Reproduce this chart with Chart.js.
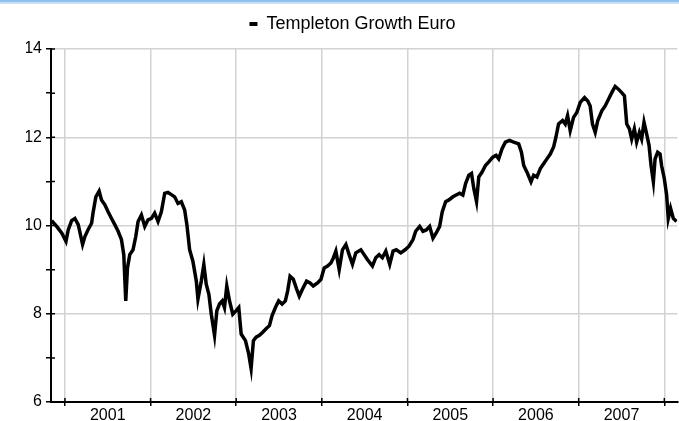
<!DOCTYPE html>
<html>
<head>
<meta charset="utf-8">
<script src="https://cdn.jsdelivr.net/npm/chart.js@4.4.1/dist/chart.umd.min.js"></script>
<style>
  html, body { margin: 0; padding: 0; background: #fff; }
  #wrap { width: 679px; height: 421px; position: relative; }
</style>
</head>
<body>
<div id="wrap"><canvas id="navChart" width="679" height="421"></canvas></div>
<script>
// fund price (x = decimal year)
const dates = [
  2000.845, 2000.903, 2000.962, 2001.012, 2001.038, 2001.078, 2001.116, 2001.155, 2001.206, 2001.233,
  2001.271, 2001.311, 2001.330, 2001.361, 2001.399, 2001.427, 2001.466, 2001.504, 2001.544, 2001.582,
  2001.621, 2001.660, 2001.687, 2001.710, 2001.730, 2001.757, 2001.795, 2001.827, 2001.854, 2001.893,
  2001.932, 2001.970, 2002.010, 2002.048, 2002.087, 2002.126, 2002.165, 2002.203, 2002.243, 2002.281,
  2002.320, 2002.359, 2002.398, 2002.424, 2002.456, 2002.494, 2002.534, 2002.553, 2002.592, 2002.622,
  2002.650, 2002.681, 2002.709, 2002.747, 2002.774, 2002.805, 2002.837, 2002.863, 2002.890, 2002.922,
  2002.960, 2003.000, 2003.030, 2003.058, 2003.108, 2003.146, 2003.174, 2003.201, 2003.233, 2003.271,
  2003.310, 2003.349, 2003.388, 2003.419, 2003.458, 2003.496, 2003.536, 2003.574, 2003.601, 2003.629,
  2003.667, 2003.706, 2003.737, 2003.775, 2003.822, 2003.862, 2003.900, 2003.950, 2003.990, 2004.028,
  2004.067, 2004.106, 2004.136, 2004.164, 2004.203, 2004.241, 2004.281, 2004.319, 2004.358, 2004.397,
  2004.456, 2004.494, 2004.532, 2004.591, 2004.630, 2004.669, 2004.707, 2004.747, 2004.793, 2004.832,
  2004.870, 2004.922, 2004.972, 2005.018, 2005.065, 2005.096, 2005.143, 2005.181, 2005.220, 2005.259,
  2005.298, 2005.336, 2005.376, 2005.406, 2005.446, 2005.484, 2005.531, 2005.569, 2005.609, 2005.647,
  2005.679, 2005.717, 2005.748, 2005.775, 2005.807, 2005.833, 2005.872, 2005.911, 2005.950, 2005.997,
  2006.035, 2006.066, 2006.105, 2006.144, 2006.191, 2006.241, 2006.299, 2006.331, 2006.358, 2006.396,
  2006.443, 2006.474, 2006.512, 2006.552, 2006.590, 2006.629, 2006.668, 2006.707, 2006.734, 2006.765,
  2006.812, 2006.843, 2006.870, 2006.901, 2006.940, 2006.978, 2007.018, 2007.068, 2007.106, 2007.134,
  2007.161, 2007.193, 2007.223, 2007.270, 2007.309, 2007.348, 2007.386, 2007.426, 2007.464, 2007.502,
  2007.534, 2007.561, 2007.592, 2007.619, 2007.650, 2007.677, 2007.709, 2007.735, 2007.763, 2007.794,
  2007.822, 2007.845, 2007.872, 2007.892, 2007.922, 2007.950, 2007.968, 2008.000, 2008.027, 2008.046,
  2008.073, 2008.105, 2008.143
];
const navValues = [
  10.11, 9.98, 9.83, 9.64, 9.90, 10.11, 10.16, 10.02, 9.57, 9.75,
  9.91, 10.05, 10.31, 10.65, 10.78, 10.58, 10.47, 10.31, 10.16, 10.02,
  9.87, 9.68, 9.34, 8.29, 9.04, 9.34, 9.45, 9.75, 10.09, 10.24,
  9.98, 10.13, 10.16, 10.28, 10.09, 10.31, 10.73, 10.75, 10.70, 10.65,
  10.50, 10.54, 10.35, 10.02, 9.45, 9.19, 8.74, 8.33, 8.74, 9.12,
  8.67, 8.44, 7.99, 7.51, 8.07, 8.22, 8.29, 8.14, 8.63, 8.29,
  7.99, 8.07, 8.14, 7.54, 7.39, 7.09, 6.76, 7.39, 7.47, 7.51,
  7.58, 7.66, 7.73, 7.96, 8.14, 8.29, 8.22, 8.29, 8.52, 8.85,
  8.78, 8.56, 8.40, 8.56, 8.74, 8.70, 8.63, 8.70, 8.78, 9.04,
  9.08, 9.15, 9.27, 9.42, 9.00, 9.45, 9.57, 9.34, 9.12, 9.38,
  9.45, 9.34, 9.23, 9.08, 9.27, 9.34, 9.27, 9.42, 9.12, 9.42,
  9.45, 9.38, 9.45, 9.53, 9.68, 9.87, 9.98, 9.87, 9.90, 9.98,
  9.71, 9.83, 9.98, 10.31, 10.54, 10.58, 10.65, 10.69, 10.73, 10.69,
  10.95, 11.14, 11.18, 10.84, 10.54, 11.10, 11.21, 11.36, 11.44, 11.55,
  11.59, 11.51, 11.74, 11.89, 11.93, 11.89, 11.85, 11.66, 11.36, 11.21,
  10.99, 11.14, 11.10, 11.29, 11.40, 11.51, 11.62, 11.78, 12.00, 12.30,
  12.38, 12.30, 12.49, 12.15, 12.45, 12.56, 12.79, 12.90, 12.82, 12.71,
  12.30, 12.11, 12.38, 12.60, 12.71, 12.86, 13.01, 13.15, 13.09, 13.01,
  12.94, 12.30, 12.19, 11.96, 12.19, 11.89, 12.11, 11.96, 12.34, 12.07,
  11.81, 11.36, 10.99, 11.51, 11.66, 11.62, 11.36, 11.06, 10.69, 10.16,
  10.39, 10.16, 10.09
];
const yearLabels = ['2001', '2002', '2003', '2004', '2005', '2006', '2007'];
const yearStarts = [2001, 2002, 2003, 2004, 2005, 2006, 2007, 2008];
const seriesName = 'Templeton Growth Euro';

const points = dates.map((d, i) => ({ x: d, y: navValues[i] }));

// white background + light blue strip along the top edge
const topStrip = {
  id: 'topStrip',
  beforeDraw(chart) {
    const c = chart.ctx;
    c.save();
    c.fillStyle = '#ffffff';
    c.fillRect(0, 0, chart.width, chart.height);
    c.fillStyle = '#8fc0ee';
    c.fillRect(0, 0, chart.width, 2);
    c.fillStyle = '#c8dff5';
    c.fillRect(0, 2, chart.width, 2);
    c.restore();
  }
};

// tick marks in the reference cross the axis line, so add the inner half
const innerTicks = {
  id: 'innerTicks',
  afterDatasetsDraw(chart) {
    const { x, y } = chart.scales;
    const area = chart.chartArea;
    const c = chart.ctx;
    c.save();
    c.strokeStyle = '#000';
    c.lineWidth = 1.5;
    c.beginPath();
    y.ticks.forEach(t => {
      const py = y.getPixelForValue(t.value);
      c.moveTo(area.left, py);
      c.lineTo(area.left + 4, py);
    });
    yearStarts.forEach(v => {
      const px = x.getPixelForValue(v);
      c.moveTo(px, area.bottom);
      c.lineTo(px, area.bottom - 4);
    });
    c.stroke();
    c.restore();
  }
};

const isYearStart = v => Math.abs(v - Math.round(v)) < 0.01;
const labelFont = { family: 'Liberation Sans, Arial, sans-serif', size: 16 };

const chart = new Chart(document.getElementById('navChart'), {
  type: 'line',
  data: {
    datasets: [{
      label: seriesName,
      data: points,
      borderColor: '#000',
      backgroundColor: '#000',
      borderWidth: 3.5,
      pointRadius: 0,
      tension: 0
    }]
  },
  options: {
    responsive: false,
    animation: false,
    // left padding only moves the legend centre; the y axis is narrowed to match
    layout: { padding: { left: 26, right: 0, top: 0, bottom: 0 } },
    plugins: {
      legend: {
        display: true,
        position: 'top',
        labels: {
          color: '#000',
          boxWidth: 8,
          boxHeight: 4,
          padding: 15,
          font: { family: 'Liberation Sans, Arial, sans-serif', size: 18 },
          generateLabels(ch) {
            const items = Chart.defaults.plugins.legend.labels.generateLabels(ch);
            items.forEach(it => { it.lineWidth = 0; });
            return items;
          }
        }
      },
      tooltip: { enabled: false }
    },
    scales: {
      x: {
        type: 'linear',
        min: 2000.837,
        max: 2008.151,
        afterBuildTicks(scale) {
          const t = [];
          yearStarts.forEach(y => t.push({ value: y }));
          yearLabels.forEach((l, i) => t.push({ value: yearStarts[i] + 0.5 }));
          scale.ticks = t.sort((a, b) => a.value - b.value);
        },
        afterFit(scale) { scale.height = 19; },
        ticks: {
          autoSkip: false,
          maxRotation: 0,
          padding: 0,
          color: '#000',
          font: labelFont,
          callback(v) {
            if (isYearStart(v)) return '';
            return yearLabels[Math.floor(v) - 2001];
          }
        },
        grid: {
          color: ctx => (ctx.tick && isYearStart(ctx.tick.value)) ? '#d2d2d2' : 'rgba(0,0,0,0)',
          tickColor: ctx => (ctx.tick && isYearStart(ctx.tick.value)) ? '#000' : 'rgba(0,0,0,0)',
          lineWidth: 1.5,
          tickLength: 4,
          tickWidth: 1.5
        },
        border: { color: '#000', width: 2 }
      },
      y: {
        min: 6,
        max: 14,
        afterFit(scale) { scale.width = 25; },
        ticks: {
          stepSize: 1,
          padding: 4,
          color: '#000',
          font: labelFont,
          callback: v => (v % 2 === 0 ? String(v) : '')
        },
        grid: {
          color: ctx => (ctx.tick && ctx.tick.value % 2 === 0) ? '#d2d2d2' : 'rgba(0,0,0,0)',
          tickColor: '#000',
          lineWidth: 1.5,
          tickLength: 5,
          tickWidth: 1.5
        },
        border: { color: '#000', width: 2 }
      }
    }
  },
  plugins: [topStrip, innerTicks]
});

// leave a bit more room under the legend, as in the reference
const legendFit = chart.legend.fit.bind(chart.legend);
chart.legend.fit = function () {
  legendFit();
  this.height += 6;
};
chart.update();
</script>
</body>
</html>
